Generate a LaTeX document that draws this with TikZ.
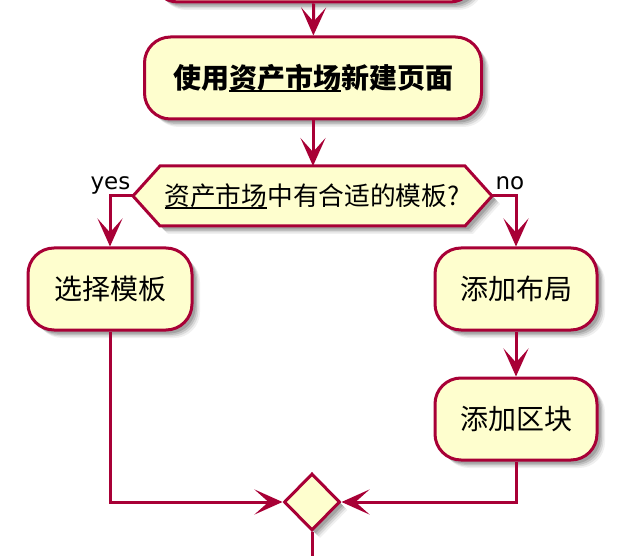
\documentclass[tikz,border=0pt]{standalone}
\usepackage{fontspec}
\usepackage{tikz}
\usetikzlibrary{arrows.meta,shadows,shapes.geometric}
\newfontfamily\cjk{Noto Sans CJK SC}
\newfontfamily\lat{DejaVu Sans}
\definecolor{umlred}{HTML}{A80036}
\definecolor{umlfill}{HTML}{FEFECE}
\newcommand{\ulbar}[1]{\setbox0\hbox{#1}\rlap{\rule[-3.5pt]{\wd0}{1.6pt}}\box0}

\begin{document}
\begin{tikzpicture}[x=1pt,y=-1pt,line width=3pt,
	lift/.style={drop shadow={shadow xshift=8pt,shadow yshift=-8pt,opacity=.06,fill=black},
		drop shadow={shadow xshift=6.5pt,shadow yshift=-6.5pt,opacity=.09,fill=black},
		drop shadow={shadow xshift=5pt,shadow yshift=-5pt,opacity=.12,fill=black},
		drop shadow={shadow xshift=3.5pt,shadow yshift=-3.5pt,opacity=.15,fill=black}},
	action/.style={draw=umlred,fill=umlfill,lift,rounded corners=26pt,minimum height=82pt,inner sep=0pt,
		font=\cjk\fontsize{28}{30}\selectfont},
	merge/.style={draw=umlred,fill=umlfill,lift,diamond,inner sep=0pt,minimum width=56pt,minimum height=57pt},
	flow/.style={draw=umlred,-{Stealth[length=28pt,width=25pt,inset=14pt]}},
	tag/.style={font=\lat\fontsize{23}{25}\selectfont,inner sep=0pt,anchor=base west}]
	\useasboundingbox (0,0) rectangle (624,556);
	% actions
	\node[action,minimum width=324pt] (prev) at (314,-39) {};
	\node[action,minimum width=337pt] (use) at (313,78) {\bfseries 使用\ulbar{资产市场}新建页面};
	\draw[umlred,fill=umlfill,lift] (133,196) coordinate (askL) -- (160,166) -- (465,166)
		-- (492,196) coordinate (askR) -- (465,226) -- (160,226) -- cycle;
	\coordinate (askT) at (313,166);
	\node[font=\cjk\fontsize{25.7}{28}\selectfont,inner sep=0pt] (ask) at (312,196) {\ulbar{资产市场}中有合适的模板?};
	\node[action,minimum width=164pt] (pick) at (110,289) {选择模板};
	\node[action,minimum width=162pt] (layout) at (516,289) {添加布局};
	\node[action,minimum width=162pt] (block) at (516,419) {添加区块};
	\node[merge] (join) at (312,502) {};
	\coordinate (out) at (312,556);
	% labels
	\node[tag] at (89,190) {yes};
	\node[tag] at (494,190) {no};
	% connectors
	\draw[flow] (prev) -- (use);
	\draw[flow] (use) -- (askT);
	\draw[flow] (askL) -| (pick.north);
	\draw[flow] (askR) -| (layout.north);
	\draw[flow] (layout) -- (block);
	\draw[flow] (pick.south) |- (join.west);
	\draw[flow] (block.south) |- (join.east);
	\draw[umlred] (join.south) -- (out);
\end{tikzpicture}
\end{document}
